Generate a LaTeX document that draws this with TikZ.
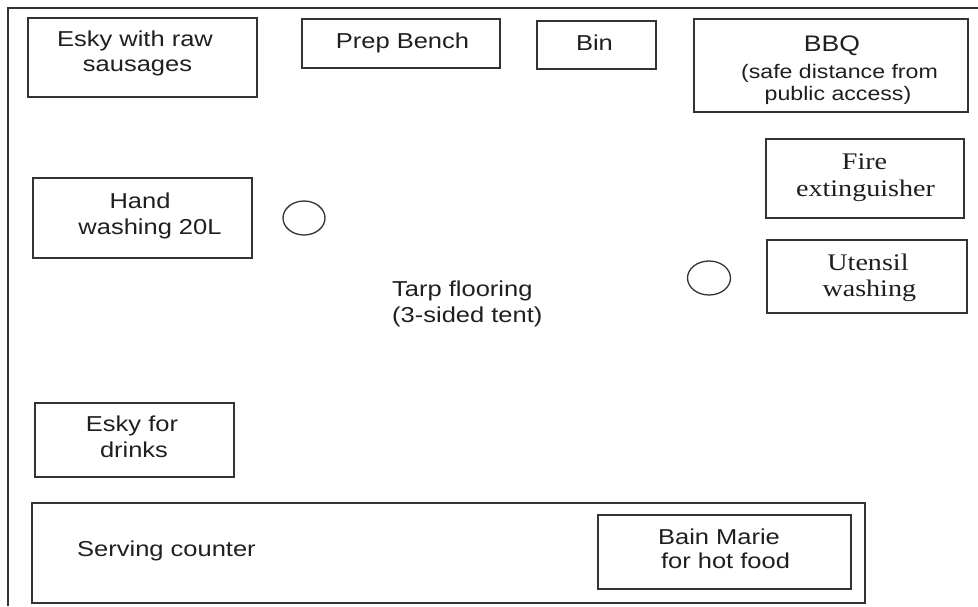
\documentclass[tikz,border=0pt]{standalone}
\usepackage{fontspec}
\setmainfont[FakeStretch=1.18]{Liberation Sans}
\newfontfamily\serifface[FakeStretch=1.18]{Liberation Serif}
\tikzset{
  wall/.style={draw=black!80, line width=1.8pt},
  item/.style={draw=black!80, line width=1.6pt},
  lbl/.style={inner sep=0pt, anchor=base, text=black!88, font=\fontsize{21.6}{26}\selectfont},
  lblw/.style={lbl, anchor=base west},
  slbl/.style={inner sep=0pt, anchor=base, text=black!88, font=\serifface\fontsize{23.8}{28}\selectfont},
}
\begin{document}
\begin{tikzpicture}[x=1pt, y=-1pt]
\useasboundingbox (0,0) rectangle (978,606);
% tent (3 sided)
\draw[wall] (8,606) -- (8,8) -- (978,8);
% items
\draw[item] (28,18) rectangle (257,97);
\draw[item] (302,19) rectangle (500,68);
\draw[item] (537,21) rectangle (656,69);
\draw[item] (694,19) rectangle (968,112);
\draw[item] (766,139) rectangle (964,218);
\draw[item] (767,240) rectangle (967,313);
\draw[item] (33,178) rectangle (252,258);
\draw[item] (35,403) rectangle (234,477);
\draw[item] (32,503) rectangle (865,603);
\draw[item] (598,515) rectangle (851,589);
\draw[item, line width=1.3pt] (304,218) ellipse [x radius=21, y radius=17];
\draw[item, line width=1.3pt] (709,278) ellipse [x radius=21.5, y radius=17];
% labels
\node[lbl] (eskyA) at (135,46.5) {Esky with raw};
\node[lbl] (eskyB) at (137.5,71.5) {sausages};
\node[lbl] (prep) at (402.5,48) {Prep Bench};
\node[lbl] (bin) at (594.5,50) {Bin};
\node[lbl, font=\fontsize{22.5}{22.5}\selectfont] (bbq) at (832,51.7) {BBQ};
\node[lbl, font=\fontsize{19.6}{20}\selectfont] (bbqA) at (839.5,78.3) {(safe distance from};
\node[lbl, font=\fontsize{19.6}{20}\selectfont] (bbqB) at (838,100.5) {public access)};
\node[slbl] (fireA) at (864.5,169.5) {Fire};
\node[slbl] (fireB) at (865.5,196) {extinguisher};
\node[slbl] (utenA) at (868,270.5) {Utensil};
\node[slbl] (utenB) at (869.3,296.5) {washing};
\node[lbl] (handA) at (140,208.3) {Hand};
\node[lbl] (handB) at (150,234) {washing 20L};
\node[lblw] (tarpA) at (392,296) {Tarp flooring};
\node[lblw] (tarpB) at (392,322) {(3-sided tent)};
\node[lbl] (drinkA) at (132,431.7) {Esky for};
\node[lbl] (drinkB) at (134,457.7) {drinks};
\node[lblw] (serve) at (77,556.7) {Serving counter};
\node[lbl] (bainA) at (719,544) {Bain Marie};
\node[lbl] (bainB) at (725.5,568.3) {for hot food};
\end{tikzpicture}
\end{document}
